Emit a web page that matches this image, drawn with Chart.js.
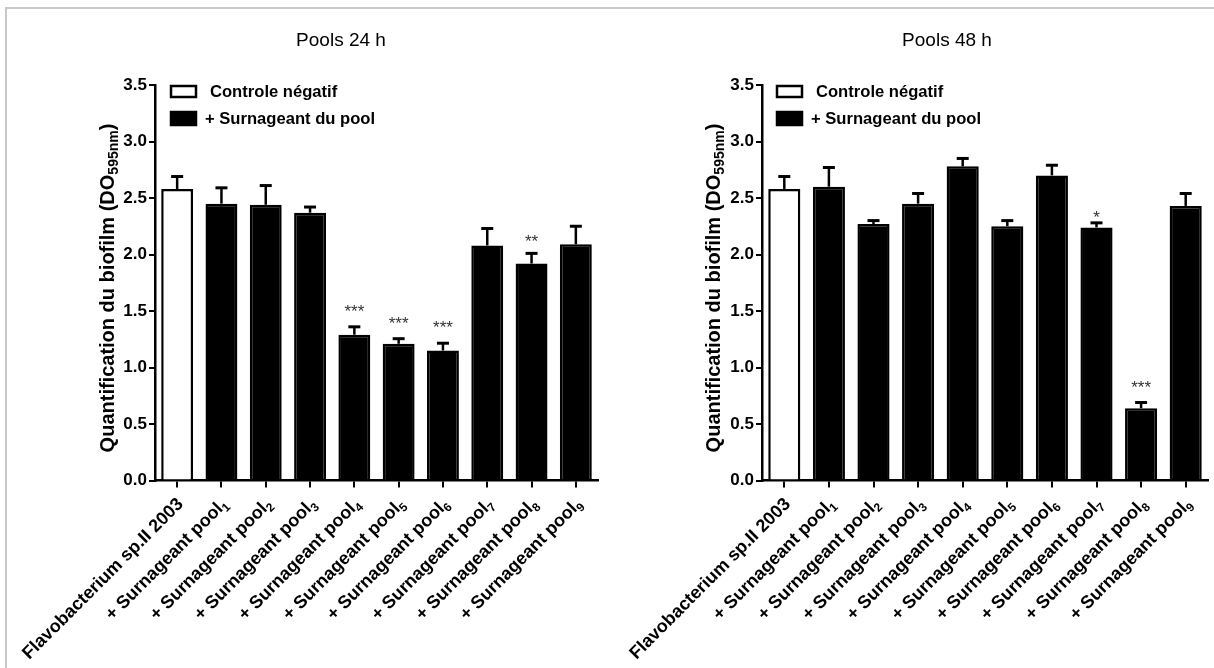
<!DOCTYPE html>
<html><head><meta charset="utf-8">
<script src="https://cdn.jsdelivr.net/npm/chart.js@4.4.1/dist/chart.umd.min.js"></script>
<style>
html,body{margin:0;padding:0;background:#fff;}
#wrap{position:relative;width:1214px;height:668px;overflow:hidden;background:#fff;}
#frame{position:absolute;left:5px;top:7px;width:1300px;height:700px;border-top:2px solid #c8c8c8;border-left:2px solid #c8c8c8;}
.cv{position:absolute;top:0;}
</style></head><body>
<div id="wrap"><div id="frame"></div>
<div class="cv" style="left:0"><canvas id="c1" width="607" height="668"></canvas></div>
<div class="cv" style="left:606px"><canvas id="c2" width="608" height="668"></canvas></div>
</div>
<script>
// ---- data ----
const categories = ["Flavobacterium sp.II 2003", "+ Surnageant pool", "+ Surnageant pool", "+ Surnageant pool",
  "+ Surnageant pool", "+ Surnageant pool", "+ Surnageant pool", "+ Surnageant pool", "+ Surnageant pool", "+ Surnageant pool"];
const categorySubscripts = ["", "1", "2", "3", "4", "5", "6", "7", "8", "9"];
const yTickValues = [0, 0.5, 1.0, 1.5, 2.0, 2.5, 3.0, 3.5];
const yTickLabels = ["0.0", "0.5", "1.0", "1.5", "2.0", "2.5", "3.0", "3.5"];

const values24 = [2.58, 2.45, 2.44, 2.37, 1.29, 1.21, 1.15, 2.08, 1.92, 2.09];
const errors24 = [0.11, 0.14, 0.17, 0.05, 0.07, 0.045, 0.065, 0.15, 0.09, 0.16];
const stars24  = ["", "", "", "", "***", "***", "***", "", "**", ""];

const values48 = [2.58, 2.60, 2.27, 2.45, 2.78, 2.25, 2.70, 2.24, 0.64, 2.43];
const errors48 = [0.11, 0.17, 0.03, 0.09, 0.07, 0.05, 0.09, 0.04, 0.05, 0.11];
const stars48  = ["", "", "", "", "", "", "", "*", "***", ""];

const legendLabels = ["Controle négatif", "+ Surnageant du pool"];
const yTitleMain = "Quantification du biofilm (DO";
const yTitleSub = "595nm";
const yTitleEnd = ")";

// ---- drawing ----
const FONT = '"Liberation Sans", Arial, Helvetica, sans-serif';

const decor = {
  id: 'decor',
  afterDatasetsDraw(chart, args, opts) {
    const ctx = chart.ctx, y = chart.scales.y;
    const meta = chart.getDatasetMeta(0);
    const vals = chart.data.datasets[0].data;
    ctx.save();
    ctx.strokeStyle = '#000';
    meta.data.forEach((el, i) => {
      const x = el.x;
      const yTop = y.getPixelForValue(vals[i]);
      const yErr = y.getPixelForValue(vals[i] + opts.errors[i]);
      ctx.lineWidth = 2.5;
      ctx.beginPath(); ctx.moveTo(x, yTop); ctx.lineTo(x, yErr); ctx.stroke();
      ctx.lineWidth = 3;
      ctx.beginPath(); ctx.moveTo(x - 6, yErr); ctx.lineTo(x + 6, yErr); ctx.stroke();
      if (opts.stars[i]) {
        ctx.fillStyle = '#333';
        ctx.font = '17px ' + FONT;
        ctx.textAlign = 'center';
        ctx.textBaseline = 'alphabetic';
        const off = (opts.starOffsets && opts.starOffsets[i]) || 20;
        ctx.fillText(opts.stars[i], x, yErr - off + 10);
      }
    });
    ctx.restore();
  },
  afterDraw(chart, args, opts) {
    const ctx = chart.ctx, xs = chart.scales.x;
    ctx.save();
    ctx.fillStyle = '#000';
    // title
    ctx.font = '19px ' + FONT;
    ctx.textAlign = 'center'; ctx.textBaseline = 'middle';
    ctx.fillText(opts.title, 341, 41);
    // legend
    ctx.lineWidth = 2.5; ctx.strokeStyle = '#000';
    ctx.fillStyle = '#fff';
    ctx.fillRect(171, 86, 25, 11); ctx.strokeRect(171, 86, 25, 11);
    ctx.fillStyle = '#000';
    ctx.fillRect(171, 112, 25, 13); ctx.strokeRect(171, 112, 25, 13);
    ctx.font = 'bold 16.6px ' + FONT;
    ctx.textAlign = 'left';
    ctx.fillText(legendLabels[0], 210, 92);
    ctx.fillText(legendLabels[1], 205, 119);
    // y title
    ctx.save();
    ctx.translate(107, 288);
    ctx.rotate(-Math.PI / 2);
    ctx.font = 'bold 20px ' + FONT;
    const w1 = ctx.measureText(yTitleMain).width;
    const w3 = ctx.measureText(yTitleEnd).width;
    ctx.font = 'bold 14px ' + FONT;
    const w2 = ctx.measureText(yTitleSub).width;
    let sx = -(w1 + w2 + w3) / 2;
    ctx.textAlign = 'left'; ctx.textBaseline = 'alphabetic';
    ctx.font = 'bold 20px ' + FONT;
    ctx.fillText(yTitleMain, sx, 7);
    ctx.font = 'bold 14px ' + FONT;
    ctx.fillText(yTitleSub, sx + w1, 11);
    ctx.font = 'bold 20px ' + FONT;
    ctx.fillText(yTitleEnd, sx + w1 + w2, 7);
    ctx.restore();
    // x labels
    categories.forEach((lab, i) => {
      const tx = xs.getPixelForTick(i);
      const sub = categorySubscripts[i];
      ctx.save();
      ctx.translate(tx + 7, 505);
      ctx.rotate(-Math.PI / 4);
      ctx.textAlign = 'left'; ctx.textBaseline = 'alphabetic';
      ctx.font = 'bold 12px ' + FONT;
      const ws = sub ? ctx.measureText(sub).width : 0;
      ctx.font = 'bold 18px ' + FONT;
      const wm = ctx.measureText(lab).width;
      ctx.fillText(lab, -ws - wm, 0);
      if (sub) { ctx.font = 'bold 12px ' + FONT; ctx.fillText(sub, -ws, 4); }
      ctx.restore();
    });
    ctx.restore();
  }
};

function makeChart(id, title, values, errors, stars, starOffsets, g) {
  return new Chart(document.getElementById(id), {
    type: 'bar',
    data: {
      labels: categories.map((c, i) => c + categorySubscripts[i]),
      datasets: [{
        data: values,
        backgroundColor: values.map((v, i) => i === 0 ? '#ffffff' : '#000000'),
        borderColor: '#000', borderWidth: 2.5,
        barPercentage: 0.72, categoryPercentage: 1
      }]
    },
    options: {
      responsive: false, animation: false,
      layout: { padding: { top: g.top, right: g.right, left: 0, bottom: 0 } },
      plugins: {
        legend: { display: false }, tooltip: { enabled: false }, title: { display: false },
        decor: { title, errors, stars, starOffsets }
      },
      scales: {
        x: {
          grid: { display: true, drawOnChartArea: false, offset: false, tickLength: 7, lineWidth: 2, color: '#000' },
          border: { display: true, color: '#000', width: 2.5 },
          ticks: { display: false },
          afterFit: s => { s.height = 668 - g.bottom; }
        },
        y: {
          min: 0, max: 3.5,
          afterBuildTicks: s => { s.ticks = yTickValues.map(v => ({ value: v })); },
          ticks: {
            callback: (v, i) => yTickLabels[i],
            font: { family: FONT, size: 17, weight: 'bold' }, color: '#000', padding: 2
          },
          grid: { display: true, drawOnChartArea: false, tickLength: 6, lineWidth: 2, color: '#000' },
          border: { display: true, color: '#000', width: 2.5 },
          afterFit: s => { s.width = g.left; }
        }
      }
    },
    plugins: [decor]
  });
}

makeChart('c1', 'Pools 24 h', values24, errors24, stars24, [0,0,0,0,20,20,20,0,16,0],
  { left: 155, right: 9, top: 85, bottom: 480.5 });
makeChart('c2', 'Pools 48 h', values48, errors48, stars48, [0,0,0,0,0,0,0,10,20,0],
  { left: 156, right: 6, top: 85, bottom: 480.5 });
</script>
</body></html>
